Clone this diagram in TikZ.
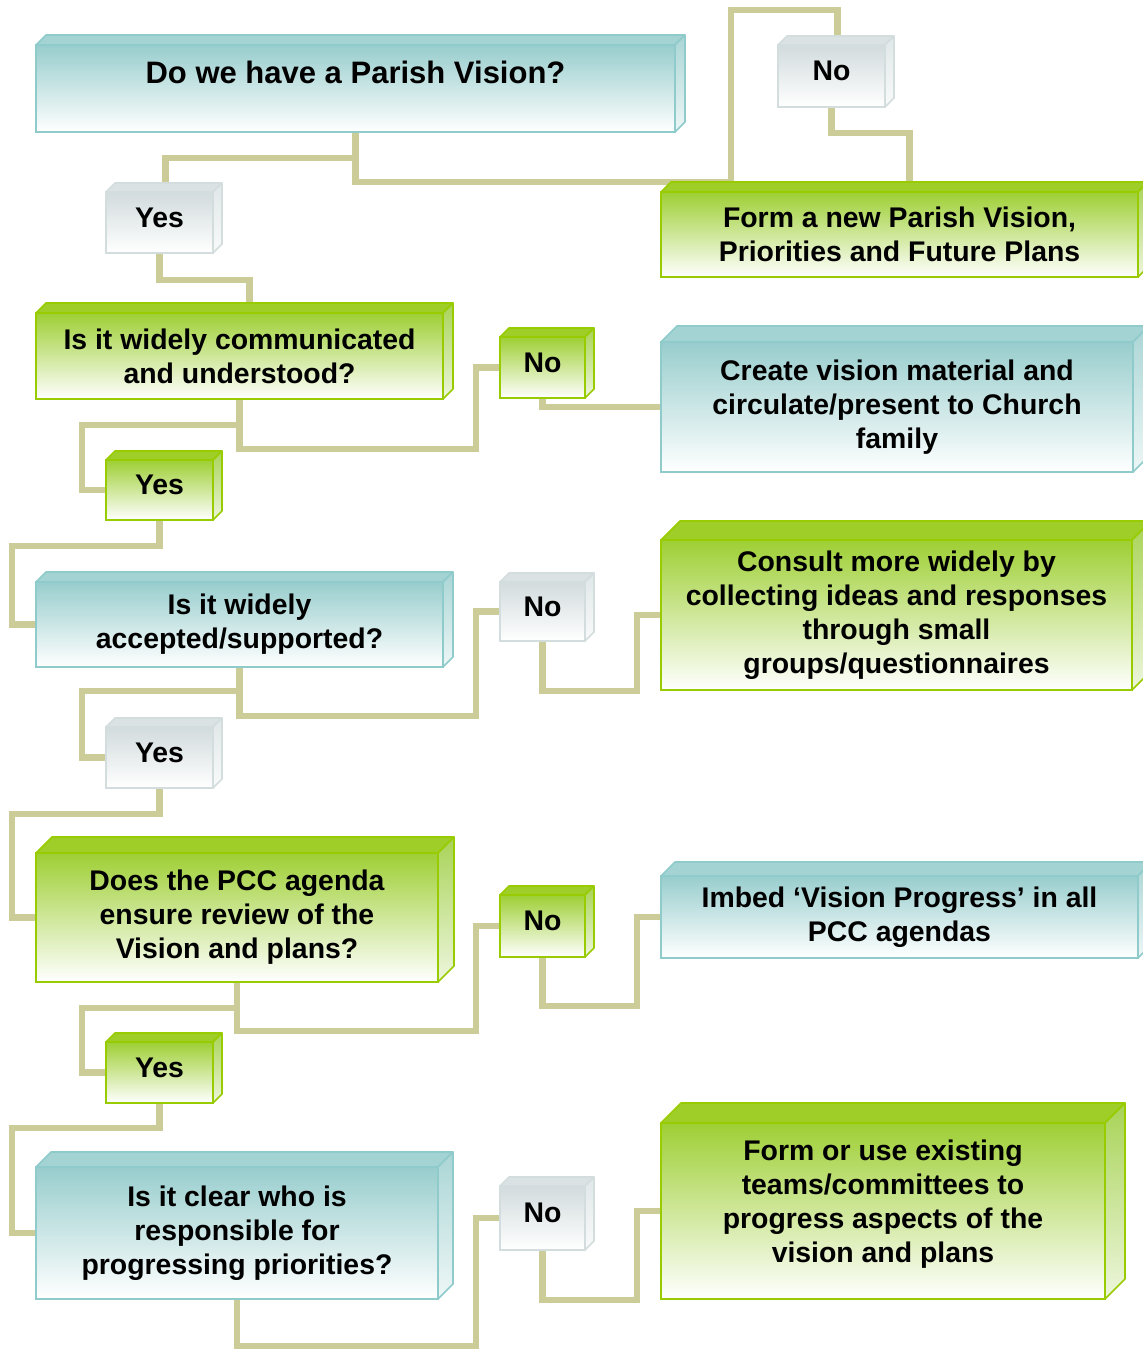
\documentclass[tikz,border=0pt]{standalone}
\usepackage{fontspec}
\setmainfont{Liberation Sans}
\usetikzlibrary{calc, backgrounds}
\definecolor{tealfront}{RGB}{152, 205, 205}
\definecolor{tealtop}{RGB}{164, 211, 211}
\definecolor{tealside}{RGB}{170, 213, 213}
\definecolor{tealline}{RGB}{143, 203, 203}
\definecolor{greenfront}{RGB}{158, 207, 52}
\definecolor{greentop}{RGB}{160, 206, 40}
\definecolor{greenside}{RGB}{168, 211, 86}
\definecolor{greenline}{RGB}{153, 204, 0}
\definecolor{grayfront}{RGB}{210, 219, 221}
\definecolor{graytop}{RGB}{218, 226, 228}
\definecolor{grayside}{RGB}{224, 231, 232}
\definecolor{grayline}{RGB}{211, 221, 222}
\definecolor{khaki}{RGB}{204, 204, 153}
\newcommand{\cube}[9]{
  % #1 name, (#2,#3) front top left, (#4,#5) front bottom right
  % #6 depth, #7 colour, #8 text, #9 extra node options
  \pgfmathsetmacro{\boxw}{(#4 - #2) / 2}
  \pgfmathsetmacro{\boxh}{(#5 - #3) / 2}

  \filldraw[fill=#7top, draw=#7line, line width=0.8pt, line join=round]
       (#2, #3) -- (#2 + #6, #3 - #6) -- (#4 + #6, #3 - #6) -- (#4, #3) -- cycle;
  \shadedraw[top color=#7side, bottom color=#7side!20!white, draw=#7line,
             line width=0.8pt, line join=round]
       (#4, #3) -- (#4 + #6, #3 - #6) -- (#4 + #6, #5 - #6) -- (#4, #5) -- cycle;

  \node[face=#7, minimum width=\boxw pt, minimum height=\boxh pt, #9]
    (#1) at ({(#2 + #4) / 2}, {(#3 + #5) / 2}) {#8};
}

\begin{document}
\begin{tikzpicture}[x=0.5pt, y=-0.5pt,
    face/.style={draw=#1line, line width=1.2pt, top color=#1front,
      bottom color=white, middle color=#1front!50!white,
      align=center, inner sep=1pt, text=black,
      font=\bfseries\fontsize{14.2}{17}\selectfont},
    answer/.style={text depth=5pt},
    link/.style={draw=khaki, line width=3.2pt}]
  \useasboundingbox (0, 0) rectangle (1143, 1349);

  % questions
  \cube{q1}{36}{45}{675}{132}{10}{teal}{Do we have a Parish Vision?}
       {font=\bfseries\fontsize{15.5}{18}\selectfont, text depth=16pt}
  \cube{q2}{36}{313}{443}{399}{10}{green}{Is it widely communicated\\and understood?}{}
  \cube{q3}{36}{582}{443}{667}{10}{teal}{Is it widely\\accepted/supported?}{}
  \cube{q4}{36}{853}{438}{982}{16}{green}{Does the PCC agenda\\ensure review of the\\Vision and plans?}{}
  \cube{q5}{36}{1167}{438}{1299}{15}{teal}{Is it clear who is\\responsible for\\progressing priorities?}{}

  % yes
  \cube{yes1}{106}{192}{213}{253}{9}{gray}{Yes}{answer}
  \cube{yes2}{106}{460}{213}{520}{9}{green}{Yes}{answer}
  \cube{yes3}{106}{727}{213}{788}{9}{gray}{Yes}{answer}
  \cube{yes4}{106}{1042}{213}{1103}{9}{green}{Yes}{answer}

  % no
  \cube{no1}{778}{45}{885}{107}{9}{gray}{No}{answer}
  \cube{no2}{500}{337}{585}{398}{9}{green}{No}{answer}
  \cube{no3}{500}{582}{585}{641}{9}{gray}{No}{answer}
  \cube{no4}{500}{895}{585}{957}{9}{green}{No}{answer}
  \cube{no5}{500}{1186}{585}{1250}{9}{gray}{No}{answer}

  % actions
  \cube{a1}{661}{192}{1138}{277}{10}{green}{Form a new Parish Vision,\\Priorities and Future Plans}{}
  \cube{a2}{661}{342}{1133}{472}{16}{teal}{Create vision material and\\circulate/present to Church\\family}{}
  \cube{a3}{661}{540}{1132}{690}{19}{green}{Consult more widely by\\collecting ideas and responses\\through small\\groups/questionnaires}{}
  \cube{a4}{661}{876}{1138}{958}{14}{teal}{Imbed ‘Vision Progress’ in all\\PCC agendas}{}
  \cube{a5}{661}{1123}{1105}{1299}{20}{green}{Form or use existing\\teams/committees to\\progress aspects of the\\vision and plans}{text depth=10pt}

  \begin{scope}[on background layer]
    \coordinate (loop) at (731, 10);
    \draw[link] (q1.south) -- ++(0, 25) -| ($(yes1.north) + (6, 0)$);
    \draw[link] (q1.south) -- ++(0, 49) -| (loop) -| ($(no1.north) + (6, 0)$);
    \draw[link] (no1.south) -- ++(0, 25) -| ($(a1.north) + (10, 0)$);
    \draw[link] (yes1.south) -- ++(0, 26) -| ($(q2.north) + (10, 0)$);
    \draw[link] (no2.south) |- (a2.west);

    % side entries
    \foreach \from/\to/\drop in {q2/yes2/25, q2/no2/49, yes2/q3/25,
        q3/yes3/23, q3/no3/48, no3/a3/49, yes3/q4/25, q4/yes4/25,
        q4/no4/48, no4/a4/48, yes4/q5/24, q5/no5/46, no5/a5/49} {
      \draw[link] (\from.south) -- ++(0, \drop) -| ($(\to.west) + (-23, 0)$)
        -- (\to.west);
    };
  \end{scope}
\end{tikzpicture}
\end{document}
